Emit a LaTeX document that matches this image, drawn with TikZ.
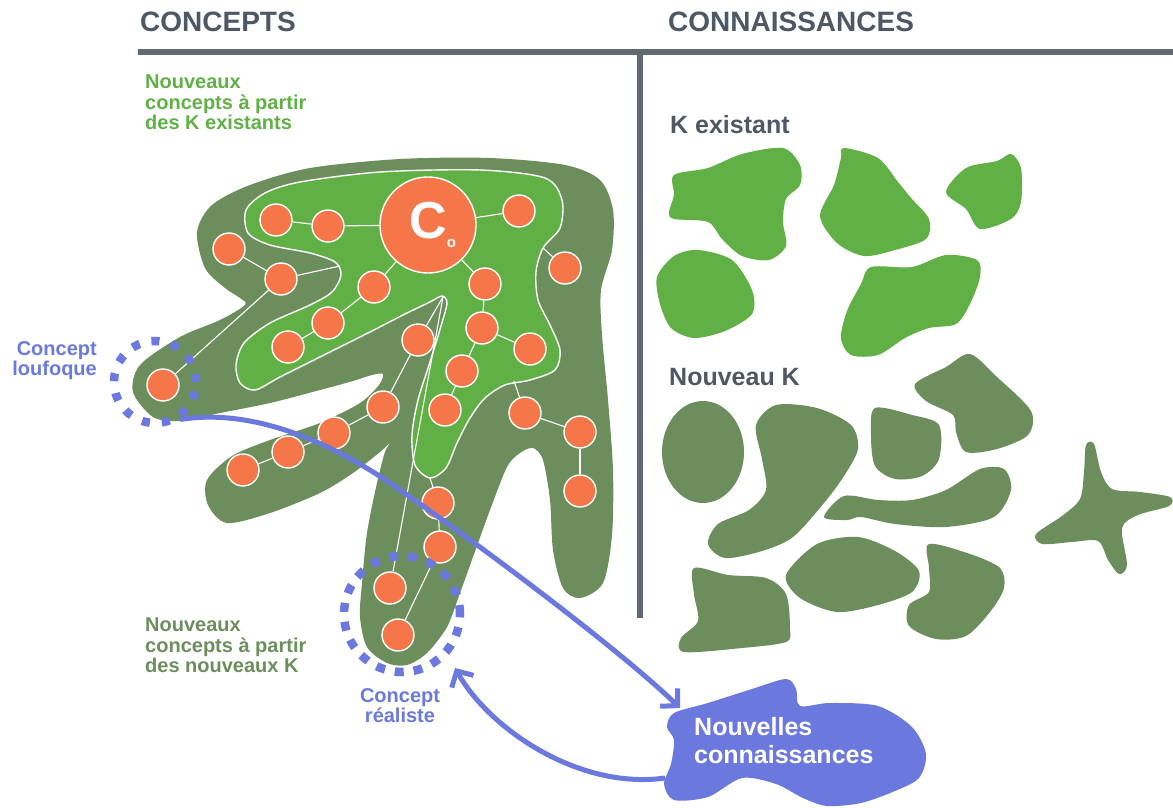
\documentclass[tikz,border=0pt]{standalone}
\usepackage{fontspec}
\setmainfont{Liberation Sans}
\usepackage{xcolor}
\usetikzlibrary{arrows.meta, positioning, calc}

\definecolor{kdark}{HTML}{6C8E5C}
\definecolor{klight}{HTML}{60B046}
\definecolor{corange}{HTML}{F47649}
\definecolor{kblue}{HTML}{6B78DE}
\definecolor{slate}{HTML}{4E5864}

\begin{document}
\begin{tikzpicture}[x=1pt, y=-1pt,
  conc/.style={circle, fill=corange, draw=white, line width=1.4pt, minimum size=32pt, inner sep=0pt},
  link/.style={white, line width=1.1pt},
  kold/.style={fill=klight},
  knew/.style={fill=kdark},
  ring/.style={circle, draw=kblue, line width=8.5pt, inner sep=0pt},
  flow/.style={kblue, line width=5pt, -{Straight Barb[length=12pt, width=25pt]}},
  lbl/.style={inner sep=0pt, font=\fontsize{20}{20.5}\selectfont\bfseries},
  head/.style={inner sep=0pt, text=slate, font=\fontsize{28}{30}\selectfont\bfseries}]

  \useasboundingbox (0,0) rectangle (1173,808);

  %% Headings and rules
  \node[head, anchor=base west] (hconc) at (140,32) {CONCEPTS};
  \node[head, anchor=base west] (hconn) at (668,32) {CONNAISSANCES};
  \draw[slate!90, line width=6pt] (138,52) -- (1173,52);
  \draw[slate!90, line width=5.5pt] (640,52) -- (640,618);

  %% K existant
  \node[head, anchor=base west, font=\fontsize{25}{27}\selectfont\bfseries] (hkold) at (670,133) {K existant};
  \fill[kold] plot[smooth cycle] coordinates {(674,175) (708,168) (742,154) (783,148) (800,165) (800,185) (786,199) (783,222) (786,246) (769,260) (742,256) (722,239) (708,222) (674,219) (669,212) (674,195)};
  \fill[kold] plot[smooth cycle] coordinates {(844,148) (878,158) (898,182) (912,199) (929,219) (926,239) (895,250) (864,256) (837,243) (820,216) (834,185) (841,158)};
  \fill[kold] plot[smooth cycle] coordinates {(946,192) (966,168) (997,161) (1011,154) (1021,168) (1021,202) (1011,219) (980,229) (966,209)};
  \fill[kold] plot[smooth cycle] coordinates {(657,277) (674,256) (698,250) (732,260) (752,290) (752,314) (725,331) (694,338) (671,328) (660,304)};
  \fill[kold] plot[smooth cycle] coordinates {(871,267) (912,267) (946,255) (977,260) (980,277) (970,304) (956,324) (929,328) (905,338) (878,355) (851,355) (841,338) (847,311) (861,284)};

  %% Nouveau K
  \node[head, anchor=base west, font=\fontsize{25}{27}\selectfont\bfseries] (hknew) at (669,385) {Nouveau K};
  \fill[knew] (703,452) ellipse [x radius=41pt, y radius=51pt];
  \fill[knew] plot[smooth cycle] coordinates {(756,425) (776,405) (817,408) (851,425) (858,449) (844,476) (824,503) (793,537) (762,551) (725,558) (708,544) (718,524) (749,510) (766,490) (762,459)};
  \fill[knew] plot[smooth cycle] coordinates {(875,408) (912,415) (939,425) (939,459) (922,476) (895,479) (875,466) (871,435)};
  \fill[knew] plot[smooth cycle] coordinates {(915,384) (946,367) (970,354) (997,377) (1031,411) (1028,435) (997,449) (966,452) (956,432) (953,415) (926,401)};
  \fill[knew] plot[smooth cycle] coordinates {(824,517) (844,496) (878,500) (912,500) (946,490) (980,469) (1004,469) (1011,490) (994,517) (946,527) (895,524) (861,517) (847,520)};
  \fill[knew] plot[smooth cycle] coordinates {(1086,445) (1094,444) (1101,472) (1112,489) (1140,492) (1170,497) (1169,506) (1138,515) (1122,528) (1127,565) (1119,574) (1108,560) (1098,541) (1072,542) (1042,544) (1036,534) (1062,516) (1080,499) (1084,472)};
  \fill[knew] plot[smooth cycle] coordinates {(786,575) (817,544) (858,537) (895,551) (919,571) (912,592) (878,605) (837,612) (800,598)};
  \fill[knew] plot[smooth cycle] coordinates {(929,544) (970,554) (1000,568) (1004,588) (990,612) (966,636) (936,639) (909,626) (909,605) (929,592) (929,568)};
  \fill[knew] plot[smooth cycle] coordinates {(694,568) (728,575) (766,578) (786,594) (790,628) (786,642) (742,648) (684,652) (681,638) (698,621) (694,594)};

  %% Concept hand
  \fill[knew] plot[smooth cycle] coordinates {(197,232) (212,205) (250,185) (310,168) (400,159) (490,158) (565,165) (600,180) (613,210) (612,250) (601,290) (602,335) (608,400) (613,470) (612,535) (603,583) (580,598) (563,588) (553,550) (550,500) (543,460) (533,448) (520,453) (507,467) (490,510) (473,557) (460,593) (447,627) (427,653) (407,665) (387,663) (367,647) (360,617) (362,583) (367,533) (377,483) (385,452) (390,443) (380,452) (353,473) (320,493) (270,513) (227,523) (208,505) (207,480) (232,456) (270,440) (320,423) (360,403) (379,385) (383,374) (372,375) (353,381) (320,390) (270,403) (220,413) (180,421) (153,417) (133,392) (140,365) (180,337) (220,320) (245,305) (240,298) (225,288) (205,268)};
  \fill[kold, draw=white, line width=1.4pt] plot[smooth cycle] coordinates {(246,210) (265,193) (300,182) (380,172) (480,170) (545,178) (562,200) (560,228) (543,248) (536,272) (538,300) (550,325) (560,350) (555,370) (530,380) (505,385) (485,398) (470,418) (457,443) (446,468) (430,478) (415,465) (412,435) (418,400) (430,362) (441,326) (447,303) (442,296) (430,302) (405,314) (370,332) (320,357) (280,377) (255,390) (240,383) (236,365) (244,343) (270,323) (310,305) (332,292) (341,275) (335,262) (310,253) (270,245) (248,233)};

  %% Concepts
  \node[conc, minimum size=96pt, text=white, font=\fontsize{52}{52}\selectfont\bfseries] (c0) at (428,225)
    {C\rlap{\raisebox{-9pt}{\fontsize{15}{15}\selectfont o}}};
  \foreach \n/\x/\y in {
    n1/276/220, n2/328/226, n3/519/211, n4/229/249, n5/281/279, n6/374/287,
    n7/485/284, n8/565/268, n9/328/323, n10/288/347, n11/482/328, n12/530/349,
    n13/418/340, n14/462/371, n15/445/410, n16/383/407, n17/334/433, n18/288/452,
    n19/243/470, n20/163/385, n21/525/413, n22/580/432, n23/580/491, n24/438/503,
    n25/440/547, n26/390/588, n27/398/635
  }{
    \node[conc] (\n) at (\x,\y) {};
  }
  \coordinate (gnotch) at (340,266);
  \coordinate (gtip) at (443,297);
  \coordinate (gneck) at (543,248);
  \coordinate (gright) at (514,381);
  \coordinate (gfoot) at (430,478);
  \foreach \a/\b in {n1/n2, n2/c0, c0/n3, c0/n6, c0/n7, n6/n9, n9/n10, n7/n11,
    n11/n12, n11/n14, n14/n15, n4/n5, n5/gnotch, n5/n20, gtip/n13, gtip/n26,
    n13/n16, n16/n17, n17/n18, n18/n19, gright/n21, n21/n22, n22/n23,
    gfoot/n24, n24/n25, n25/n27, gneck/n8}{
    \draw[link] (\a) -- (\b);
  }

  %% Rings
  \node[ring, minimum size=82pt, dash pattern=on 8pt off 12pt] (louf) at (155,382) {};
  \node[ring, minimum size=116pt, dash pattern=on 9pt off 10pt] (real) at (402,614) {};

  %% Nouvelles connaissances
  \fill[kblue] plot[smooth cycle] coordinates {(674,713) (708,703) (752,689) (786,679) (796,689) (800,706) (830,703) (878,706) (912,727) (926,754) (919,778) (895,791) (861,803) (827,806) (803,798) (776,784) (742,778) (708,797) (674,800) (664,784) (671,764) (674,740) (667,727)};
  \node[lbl, anchor=north west, align=left, text=white, font=\fontsize{25}{28}\selectfont\bfseries] (nk) at (694,717) {Nouvelles\\connaissances};
  \coordinate (ncin) at (680,708);
  \coordinate (ncout) at (665,778);
  \coordinate (realtip) at (455,668);

  %% Flows
  \draw[flow] (louf.-56) .. controls (250,408) and (330,440) .. (400,490)
    .. controls (480,545) and (620,650) .. (ncin);
  \draw[flow] (ncout) .. controls (580,790) and (490,730) .. (realtip);

  %% Labels
  \node[lbl, anchor=north west, align=left, text=klight] (ktop) at (145,75)
    {Nouveaux\\concepts à partir\\des K existants};
  \node[lbl, anchor=north west, align=left, text=kdark] (kbot) at (145,618)
    {Nouveaux\\concepts à partir\\des nouveaux K};
  \node[lbl, anchor=north east, align=right, text=kblue] (tlouf) at (97,341)
    {Concept\\loufoque};
  \node[lbl, anchor=north, align=center, text=kblue] (treal) at (400,688)
    {Concept\\réaliste};

\end{tikzpicture}
\end{document}
